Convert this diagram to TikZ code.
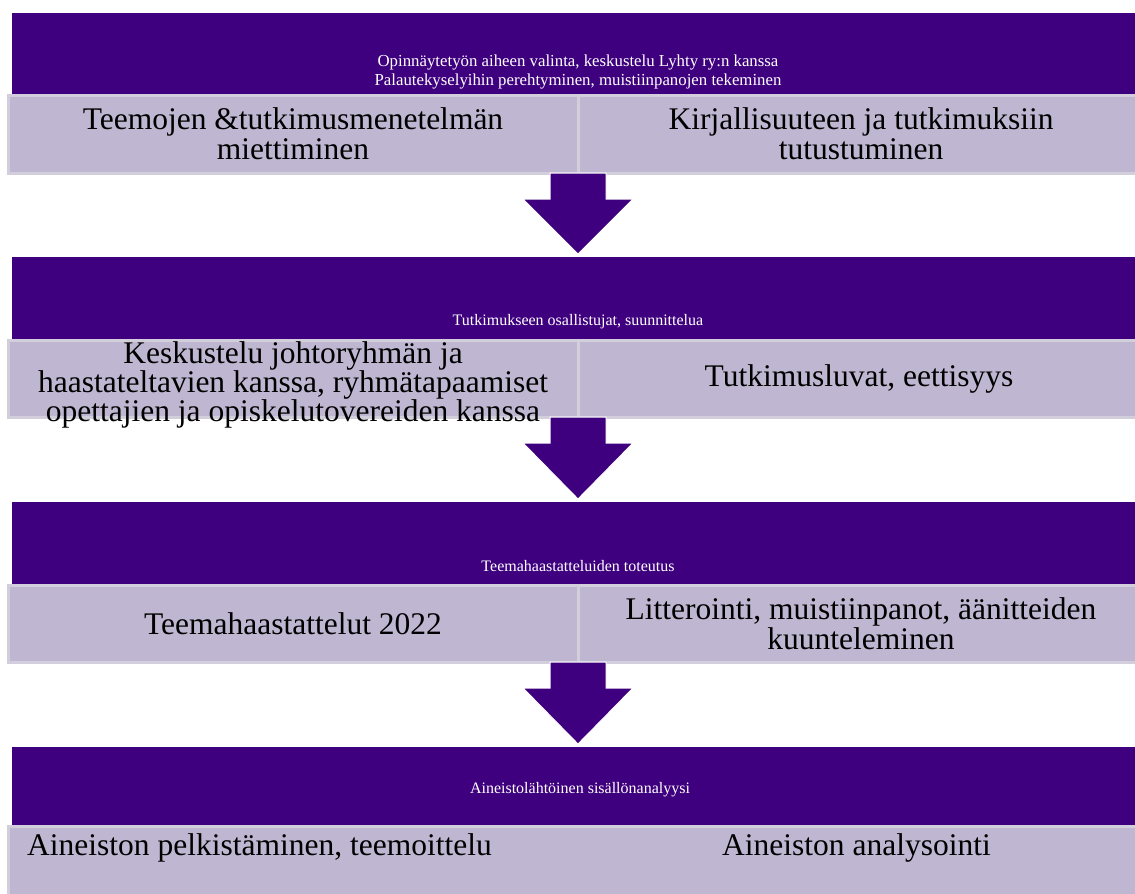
\documentclass[tikz,border=0pt]{standalone}
\usepackage{fontspec}
\setmainfont{Liberation Serif}
\usetikzlibrary{calc,positioning}
\definecolor{BandPurple}{HTML}{3E007E}
\definecolor{CellLilac}{HTML}{BFB7D1}
\definecolor{CellEdge}{HTML}{D2CEDC}
\tikzset{
  band/.style={fill=BandPurple, inner sep=0pt, outer sep=0pt},
  cell/.style={fill=CellLilac, draw=CellEdge, line width=3pt, inner sep=0pt, outer sep=0pt},
  bandtext/.style={text=white, align=center, inner sep=0pt, font=\fontsize{16}{19.5}\selectfont},
  celltext/.style={text=black, align=center, inner sep=0pt, font=\fontsize{31.5}{30}\selectfont},
  flowarrow/.style={fill=BandPurple, draw=white, line width=1pt}
}
% block arrow from a shaft top to a tip
\newcommand{\stepArrow}[2]{%
  \filldraw[flowarrow] ($(#1)+(-28,0)$) -- ($(#1)+(28,0)$) -- ($(#1)+(28,26)$)
    -- ($(#1)+(55,26)$) -- (#2) -- ($(#1)+(-55,26)$) -- ($(#1)+(-28,26)$) -- cycle;%
}

\begin{document}
\begin{tikzpicture}[x=1pt,y=-1pt]
  \useasboundingbox (0,0) rectangle (1135,894);

  % purple phase bands
  \node[band, minimum width=1128, minimum height=82] (band1) at (576,54) {};
  \node[band, minimum width=1128, minimum height=83] (band2) at (576,298.5) {};
  \node[band, minimum width=1128, minimum height=83] (band3) at (576,543.5) {};
  \node[band, minimum width=1128, minimum height=79] (band4) at (576,786.5) {};

  \node[bandtext, font=\fontsize{16.8}{19.5}\selectfont] (head1) at (578,72) {Opinnäytetyön aiheen valinta, keskustelu Lyhty ry:n kanssa\\Palautekyselyihin perehtyminen, muistiinpanojen tekeminen};
  \node[bandtext] (head2) at (578,322) {Tutkimukseen osallistujat, suunnittelua};
  \node[bandtext] (head3) at (578,566) {Teemahaastatteluiden toteutus};
  \node[bandtext] (head4) at (580,790) {Aineistolähtöinen sisällönanalyysi};

  % lilac task cells
  \node[cell, minimum width=570, minimum height=78] (r1l) at (293,134) {};
  \node[cell, minimum width=562, minimum height=78] (r1r) at (859,134) {};
  \node[cell, minimum width=570, minimum height=77] (r2l) at (293,378.5) {};
  \node[cell, minimum width=562, minimum height=77] (r2r) at (859,378.5) {};
  \node[cell, minimum width=570, minimum height=77] (r3l) at (293,623.5) {};
  \node[cell, minimum width=562, minimum height=77] (r3r) at (859,623.5) {};
  \node[cell, minimum width=1132, minimum height=74] (r4) at (574,863) {};

  \node[celltext] (t1l) at (r1l.center) {Teemojen \&tutkimusmenetelmän\\miettiminen};
  \node[celltext] (t1r) at ([xshift=2pt]r1r.center) {Kirjallisuuteen ja tutkimuksiin\\tutustuminen};
  \node[celltext, font=\fontsize{31.5}{29}\selectfont] (t2l) at ([yshift=-6pt]r2l.center) {Keskustelu johtoryhmän ja\\haastateltavien kanssa, ryhmätapaamiset\\opettajien ja opiskelutovereiden kanssa};
  \node[celltext] (t2r) at (r2r.center) {Tutkimusluvat, eettisyys};
  \node[celltext] (t3l) at (r3l.center) {Teemahaastattelut 2022};
  \node[celltext] (t3r) at ([xshift=2pt]r3r.center) {Litterointi, muistiinpanot, äänitteiden\\kuunteleminen};
  \node[celltext, anchor=base west] (t4l) at (27,855) {Aineiston pelkistäminen, teemoittelu};
  \node[celltext, anchor=base west] (t4r) at (722,855) {Aineiston analysointi};

  % arrows between phases
  \stepArrow{r1r.south west}{$(r1r.south west |- band2.north)+(0,-3)$}
  \stepArrow{r2r.south west}{$(r2r.south west |- band3.north)+(0,-3)$}
  \stepArrow{r3r.south west}{$(r3r.south west |- band4.north)+(0,-3)$}
\end{tikzpicture}
\end{document}
